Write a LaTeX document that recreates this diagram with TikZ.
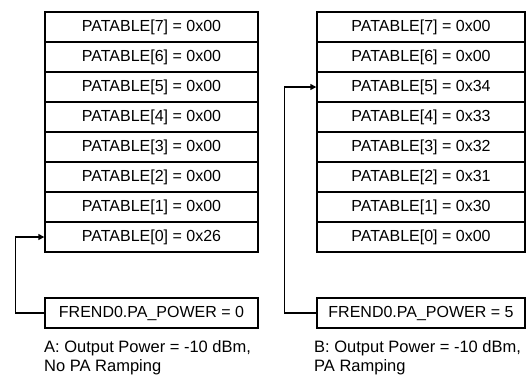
\documentclass[tikz,border=0pt]{standalone}
\usepackage{fontspec}
\setmainfont{Liberation Sans}
\usetikzlibrary{arrows.meta}

\tikzset{
    cell/.style={draw, line width=1.4pt, minimum height=30pt, inner sep=0pt,
        font=\fontsize{16}{18}\selectfont},
    cellA/.style={cell, minimum width=213pt},
    cellB/.style={cell, minimum width=208pt},
    feed/.style={line width=1.4pt, -{Triangle[length=6pt,width=6pt]}},
    caption/.style={anchor=north west, align=left, inner sep=0pt,
        font=\fontsize{16.5}{19}\selectfont}
}

\begin{document}
\begin{tikzpicture}[x=1pt, y=-1pt]
    \useasboundingbox (0,0) rectangle (526,383);

    % table A
    \node[cellA] (a7) at (151.5,27)  {PATABLE[7] = 0x00};
    \node[cellA] (a6) at (151.5,57)  {PATABLE[6] = 0x00};
    \node[cellA] (a5) at (151.5,87)  {PATABLE[5] = 0x00};
    \node[cellA] (a4) at (151.5,117) {PATABLE[4] = 0x00};
    \node[cellA] (a3) at (151.5,147) {PATABLE[3] = 0x00};
    \node[cellA] (a2) at (151.5,177) {PATABLE[2] = 0x00};
    \node[cellA] (a1) at (151.5,207) {PATABLE[1] = 0x00};
    \node[cellA] (a0) at (151.5,237) {PATABLE[0] = 0x26};

    \node[cellA] (powA) at (151.5,313) {FREND0.PA\_POWER = 0};

    % table B
    \node[cellB] (b7) at (421,27)  {PATABLE[7] = 0x00};
    \node[cellB] (b6) at (421,57)  {PATABLE[6] = 0x00};
    \node[cellB] (b5) at (421,87)  {PATABLE[5] = 0x34};
    \node[cellB] (b4) at (421,117) {PATABLE[4] = 0x33};
    \node[cellB] (b3) at (421,147) {PATABLE[3] = 0x32};
    \node[cellB] (b2) at (421,177) {PATABLE[2] = 0x31};
    \node[cellB] (b1) at (421,207) {PATABLE[1] = 0x30};
    \node[cellB] (b0) at (421,237) {PATABLE[0] = 0x00};

    \node[cellB] (powB) at (421,313) {FREND0.PA\_POWER = 5};

    % pointers
    \draw[feed] (powA.west) -- ++(-29,0) |- (a0.west);
    \draw[feed] (powB.west) -- ++(-32,0) |- (b5.west);

    \node[caption] (capA) at (44,340) {A: Output Power = -10 dBm,\\No PA Ramping};
    \node[caption] (capB) at (314,340) {B: Output Power = -10 dBm,\\PA Ramping};
\end{tikzpicture}
\end{document}
